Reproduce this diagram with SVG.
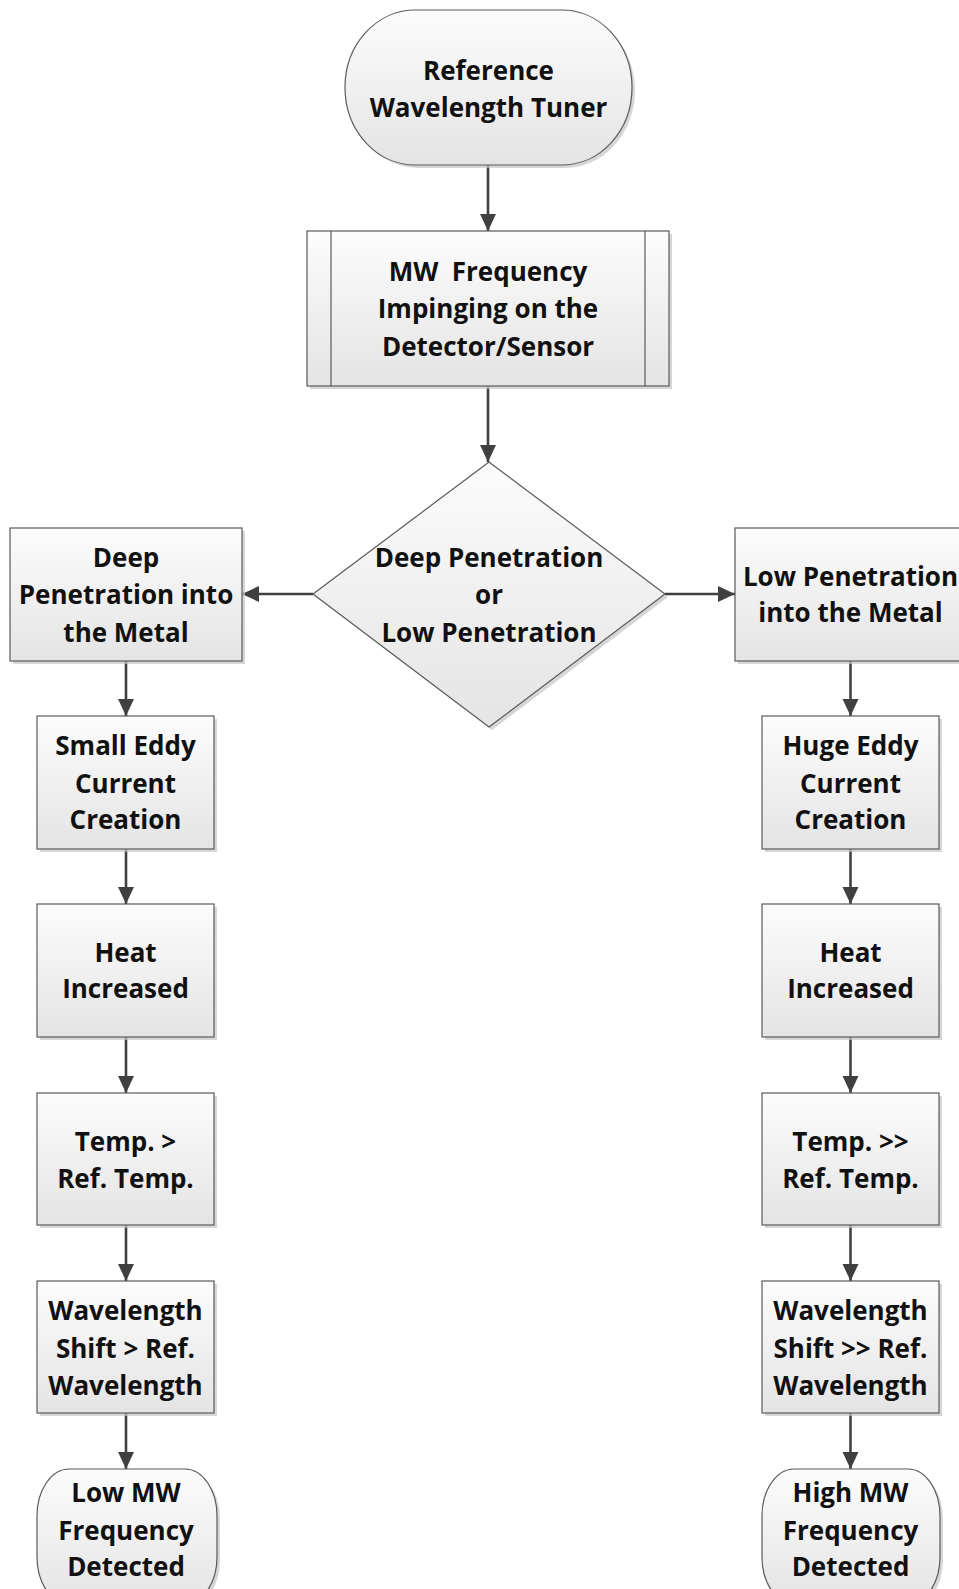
<svg xmlns="http://www.w3.org/2000/svg" width="959" height="1589" viewBox="0 0 959 1589">
<defs>
<linearGradient id="g" x1="0" y1="0" x2="0" y2="1">
<stop offset="0" stop-color="#fcfcfc"/>
<stop offset="1" stop-color="#e4e4e4"/>
</linearGradient>
<marker id="arr" markerUnits="userSpaceOnUse" markerWidth="18" markerHeight="17" refX="17" refY="8" orient="auto">
<path d="M0,0 L17,8 L0,16 z" fill="#404040"/>
</marker>
</defs>
<style>
.s{fill:url(#g);stroke:#5a5a5a;stroke-width:1.2}
.sh{fill:#c4c4c4;opacity:0.7}
.t{font-family:"Open Sans","Noto Sans","Liberation Sans",sans-serif;font-weight:700;font-size:26px;fill:#111;text-anchor:middle}
.c{stroke:#404040;stroke-width:2.6;fill:none;marker-end:url(#arr)}
</style>
<g id="connectors">
<line class="c" x1="488" y1="165" x2="488" y2="231"/>
<line class="c" x1="488" y1="386" x2="488" y2="462"/>
<line class="c" x1="313" y1="594" x2="242" y2="594"/>
<line class="c" x1="665" y1="594" x2="735" y2="594"/>
<line class="c" x1="126" y1="661" x2="126" y2="716"/>
<line class="c" x1="126" y1="849" x2="126" y2="904"/>
<line class="c" x1="126" y1="1037" x2="126" y2="1093"/>
<line class="c" x1="126" y1="1225" x2="126" y2="1281"/>
<line class="c" x1="126" y1="1413" x2="126" y2="1469"/>
<line class="c" x1="850.5" y1="661" x2="850.5" y2="716"/>
<line class="c" x1="850.5" y1="849" x2="850.5" y2="904"/>
<line class="c" x1="850.5" y1="1037" x2="850.5" y2="1093"/>
<line class="c" x1="850.5" y1="1225" x2="850.5" y2="1281"/>
<line class="c" x1="850.5" y1="1413" x2="850.5" y2="1469"/>
</g>
<g id="start">
<rect class="sh" x="348" y="13" width="287" height="155" rx="70" ry="77.5"/>
<rect class="s" x="345" y="10" width="287" height="155" rx="70" ry="77.5"/>
<text class="t" x="488.5" y="80">Reference</text>
<text class="t" x="488.5" y="117">Wavelength Tuner</text>
</g>
<g id="process">
<rect class="sh" x="310" y="234" width="362" height="155"/>
<rect class="s" x="307" y="231" width="362" height="155"/>
<line x1="331" y1="231" x2="331" y2="386" stroke="#5a5a5a" stroke-width="1.2"/>
<line x1="645" y1="231" x2="645" y2="386" stroke="#5a5a5a" stroke-width="1.2"/>
<text class="t" x="488" y="281" xml:space="preserve">MW  Frequency</text>
<text class="t" x="488" y="318">Impinging on the</text>
<text class="t" x="488" y="356">Detector/Sensor</text>
</g>
<g id="decision">
<polygon class="sh" points="492,465 668,597 492,730 316,597"/>
<polygon class="s" points="489,462 665,594 489,727 313,594"/>
<text class="t" x="489" y="567">Deep Penetration</text>
<text class="t" x="489" y="604">or</text>
<text class="t" x="489" y="642">Low Penetration</text>
</g>
<g id="deep">
<rect class="sh" x="13" y="531" width="232" height="133"/>
<rect class="s" x="10" y="528" width="232" height="133"/>
<text class="t" x="126" y="567">Deep</text>
<text class="t" x="126" y="604">Penetration into</text>
<text class="t" x="126" y="642">the Metal</text>
</g>
<g id="low">
<rect class="sh" x="738" y="531" width="232" height="133"/>
<rect class="s" x="735" y="528" width="232" height="133"/>
<text class="t" x="850.5" y="586">Low Penetration</text>
<text class="t" x="850.5" y="622">into the Metal</text>
</g>
<g id="smalleddy">
<rect class="sh" x="40" y="719" width="177" height="133"/>
<rect class="s" x="37" y="716" width="177" height="133"/>
<text class="t" x="125.5" y="755">Small Eddy</text>
<text class="t" x="125.5" y="793">Current</text>
<text class="t" x="125.5" y="829">Creation</text>
</g>
<g id="hugeeddy">
<rect class="sh" x="765" y="719" width="177" height="133"/>
<rect class="s" x="762" y="716" width="177" height="133"/>
<text class="t" x="850.5" y="755">Huge Eddy</text>
<text class="t" x="850.5" y="793">Current</text>
<text class="t" x="850.5" y="829">Creation</text>
</g>
<g id="heatL">
<rect class="sh" x="40" y="907" width="177" height="133"/>
<rect class="s" x="37" y="904" width="177" height="133"/>
<text class="t" x="125.5" y="962">Heat</text>
<text class="t" x="125.5" y="998">Increased</text>
</g>
<g id="heatR">
<rect class="sh" x="765" y="907" width="177" height="133"/>
<rect class="s" x="762" y="904" width="177" height="133"/>
<text class="t" x="850.5" y="962">Heat</text>
<text class="t" x="850.5" y="998">Increased</text>
</g>
<g id="tempL">
<rect class="sh" x="40" y="1096" width="177" height="132"/>
<rect class="s" x="37" y="1093" width="177" height="132"/>
<text class="t" x="125.5" y="1151">Temp. &gt;</text>
<text class="t" x="125.5" y="1188">Ref. Temp.</text>
</g>
<g id="tempR">
<rect class="sh" x="765" y="1096" width="177" height="132"/>
<rect class="s" x="762" y="1093" width="177" height="132"/>
<text class="t" x="850.5" y="1151">Temp. &gt;&gt;</text>
<text class="t" x="850.5" y="1188">Ref. Temp.</text>
</g>
<g id="waveL">
<rect class="sh" x="40" y="1284" width="177" height="132"/>
<rect class="s" x="37" y="1281" width="177" height="132"/>
<text class="t" x="125.5" y="1320">Wavelength</text>
<text class="t" x="125.5" y="1358">Shift &gt; Ref.</text>
<text class="t" x="125.5" y="1395">Wavelength</text>
</g>
<g id="waveR">
<rect class="sh" x="765" y="1284" width="177" height="132"/>
<rect class="s" x="762" y="1281" width="177" height="132"/>
<text class="t" x="850.5" y="1320">Wavelength</text>
<text class="t" x="850.5" y="1358">Shift &gt;&gt; Ref.</text>
<text class="t" x="850.5" y="1395">Wavelength</text>
</g>
<g id="endL">
<rect class="sh" x="40" y="1472" width="180" height="135" rx="32" ry="47"/>
<rect class="s" x="37" y="1469" width="180" height="135" rx="32" ry="47"/>
<text class="t" x="126" y="1502">Low MW</text>
<text class="t" x="126" y="1540">Frequency</text>
<text class="t" x="126" y="1576">Detected</text>
</g>
<g id="endR">
<rect class="sh" x="765" y="1472" width="178" height="135" rx="32" ry="47"/>
<rect class="s" x="762" y="1469" width="178" height="135" rx="32" ry="47"/>
<text class="t" x="850.5" y="1502">High MW</text>
<text class="t" x="850.5" y="1540">Frequency</text>
<text class="t" x="850.5" y="1576">Detected</text>
</g>
</svg>
